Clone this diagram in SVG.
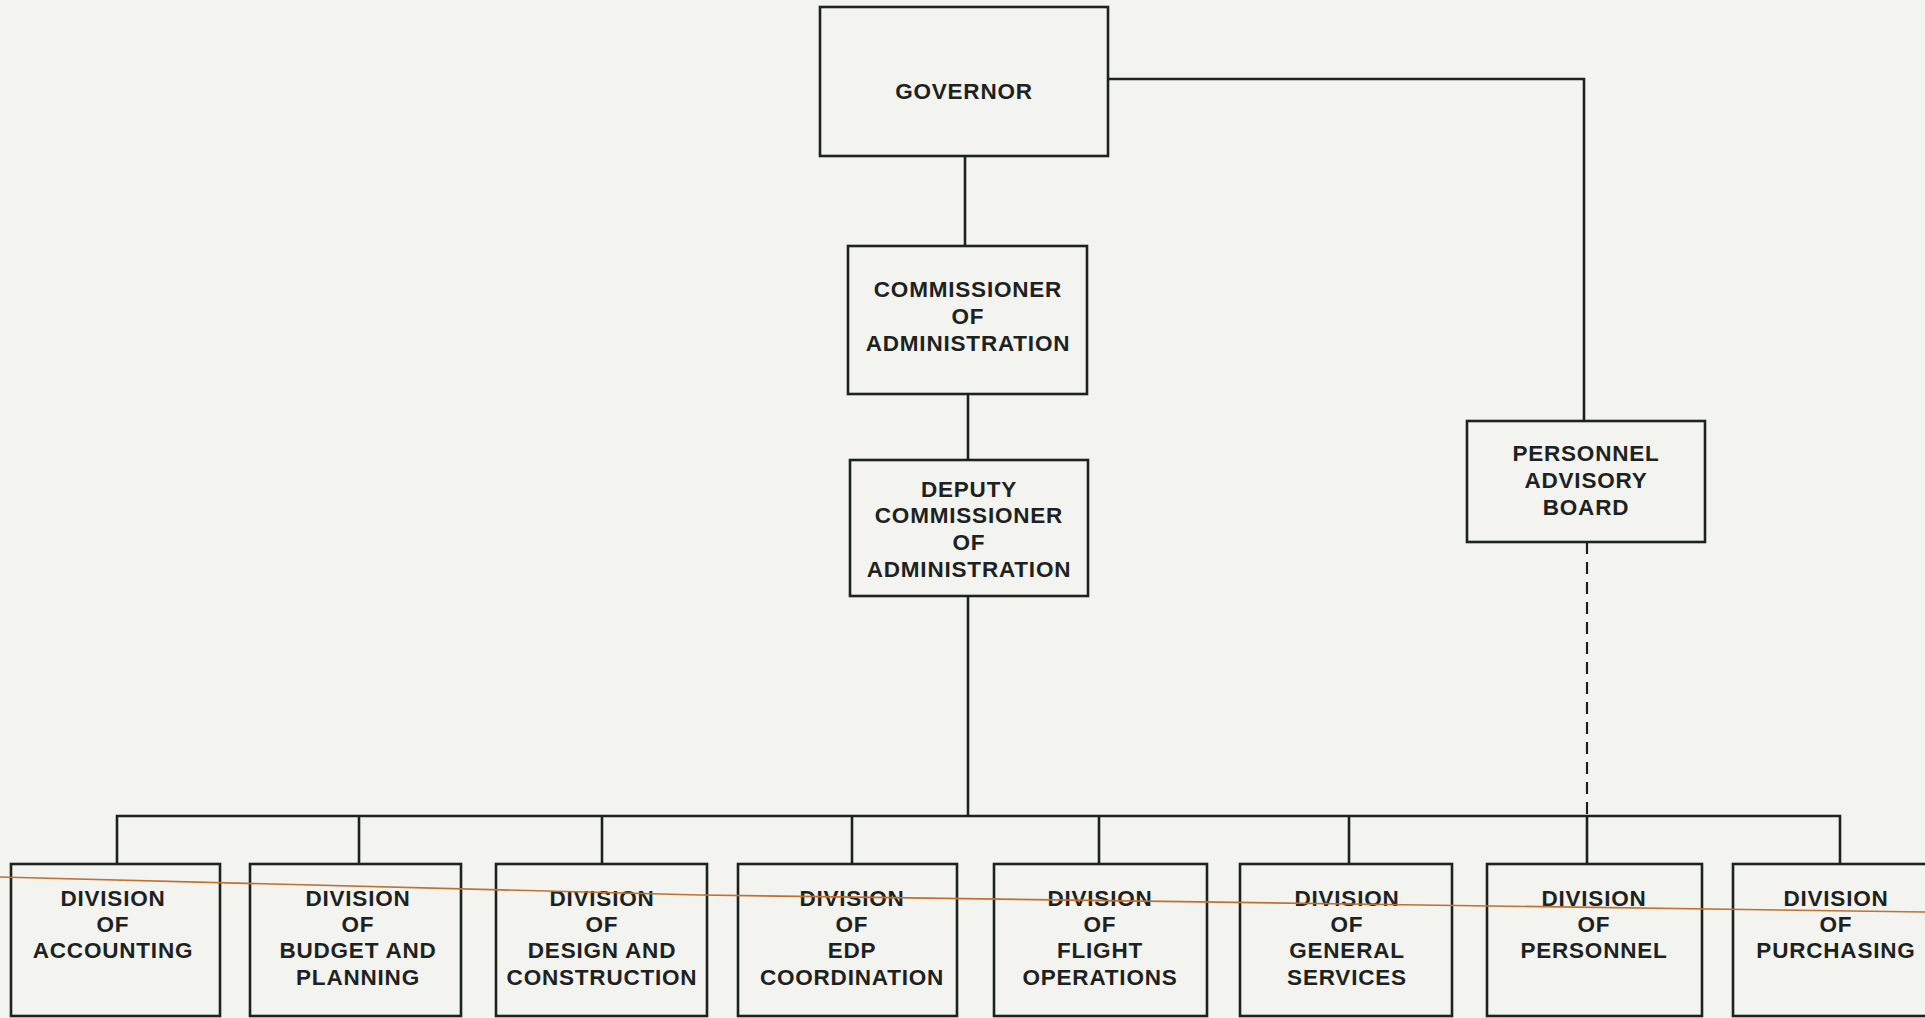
<svg xmlns="http://www.w3.org/2000/svg" width="1925" height="1018" viewBox="0 0 1925 1018">
<style>
.bg{fill:#f3f4f0}
.box{fill:none;stroke:#1d221f;stroke-width:2.6}
.ln{fill:none;stroke:#1d221f;stroke-width:2.6}
.dash{fill:none;stroke:#1d221f;stroke-width:2.2;stroke-dasharray:12 8}
.t{font-family:"Liberation Sans",Arial,sans-serif;font-weight:bold;font-size:22.5px;fill:#1d221f;text-anchor:middle;letter-spacing:0.8px}
.scan{fill:none;stroke:#c0702f;stroke-width:1.6}
</style>
<rect class="bg" x="0" y="0" width="1925" height="1018"/>
<g id="connectors">
<path class="ln" d="M965,156 V246"/>
<path class="ln" d="M968,394 V460"/>
<path class="ln" d="M968,596 V816"/>
<path class="ln" d="M1108,79 H1584 V421"/>
<path class="ln" d="M117,864 V816 H1840 V864"/>
<path class="ln" d="M359,816 V864 M602,816 V864 M852,816 V864 M1099,816 V864 M1349,816 V864 M1587,816 V864"/>
<path class="dash" d="M1587,542 V816"/>
</g>
<g id="governor"><rect class="box" x="820" y="7" width="288" height="149"/><text class="t" x="964" y="99">GOVERNOR</text></g>
<g id="commissioner"><rect class="box" x="848" y="246" width="239" height="148"/><text class="t" x="968" y="297">COMMISSIONER</text><text class="t" x="968" y="324">OF</text><text class="t" x="968" y="351">ADMINISTRATION</text></g>
<g id="deputy"><rect class="box" x="850" y="460" width="238" height="136"/><text class="t" x="969" y="497">DEPUTY</text><text class="t" x="969" y="523">COMMISSIONER</text><text class="t" x="969" y="550">OF</text><text class="t" x="969" y="577">ADMINISTRATION</text></g>
<g id="personnel-advisory-board"><rect class="box" x="1467" y="421" width="238" height="121"/><text class="t" x="1586" y="461">PERSONNEL</text><text class="t" x="1586" y="488">ADVISORY</text><text class="t" x="1586" y="515">BOARD</text></g>
<g id="div-accounting"><rect class="box" x="11" y="864" width="209" height="152"/><text class="t" x="113" y="906">DIVISION</text><text class="t" x="113" y="932">OF</text><text class="t" x="113" y="958">ACCOUNTING</text></g>
<g id="div-budget"><rect class="box" x="250" y="864" width="211" height="152"/><text class="t" x="358" y="906">DIVISION</text><text class="t" x="358" y="932">OF</text><text class="t" x="358" y="958">BUDGET AND</text><text class="t" x="358" y="985">PLANNING</text></g>
<g id="div-design"><rect class="box" x="496" y="864" width="211" height="152"/><text class="t" x="602" y="906">DIVISION</text><text class="t" x="602" y="932">OF</text><text class="t" x="602" y="958">DESIGN AND</text><text class="t" x="602" y="985">CONSTRUCTION</text></g>
<g id="div-edp"><rect class="box" x="738" y="864" width="219" height="152"/><text class="t" x="852" y="906">DIVISION</text><text class="t" x="852" y="932">OF</text><text class="t" x="852" y="958">EDP</text><text class="t" x="852" y="985">COORDINATION</text></g>
<g id="div-flight"><rect class="box" x="994" y="864" width="213" height="152"/><text class="t" x="1100" y="906">DIVISION</text><text class="t" x="1100" y="932">OF</text><text class="t" x="1100" y="958">FLIGHT</text><text class="t" x="1100" y="985">OPERATIONS</text></g>
<g id="div-general"><rect class="box" x="1240" y="864" width="212" height="152"/><text class="t" x="1347" y="906">DIVISION</text><text class="t" x="1347" y="932">OF</text><text class="t" x="1347" y="958">GENERAL</text><text class="t" x="1347" y="985">SERVICES</text></g>
<g id="div-personnel"><rect class="box" x="1487" y="864" width="215" height="152"/><text class="t" x="1594" y="906">DIVISION</text><text class="t" x="1594" y="932">OF</text><text class="t" x="1594" y="958">PERSONNEL</text></g>
<g id="div-purchasing"><rect class="box" x="1733" y="864" width="210" height="152"/><text class="t" x="1836" y="906">DIVISION</text><text class="t" x="1836" y="932">OF</text><text class="t" x="1836" y="958">PURCHASING</text></g>
<polyline class="scan" points="0,877 700,895 1350,904 1925,912"/>
</svg>
